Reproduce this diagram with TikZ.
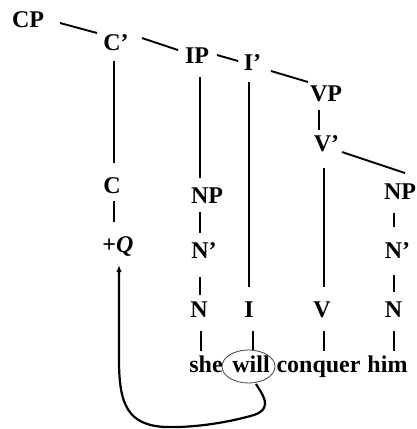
\documentclass[tikz,border=0pt]{standalone}
\usepackage{fontspec}
\setmainfont{Liberation Serif}
\usetikzlibrary{arrows.meta}
\newcommand\prm{\rlap{’}}
\begin{document}
\begin{tikzpicture}[x=1pt,y=-1pt,
  lab/.style={font=\fontsize{24}{28}\selectfont\bfseries, inner sep=1pt, anchor=base},
  wrd/.style={font=\fontsize{24}{28}\selectfont\bfseries, inner sep=1pt, anchor=base},
  edge/.style={line width=1.9pt},
  move/.style={line width=2.2pt, -{Latex[length=7pt,width=5.5pt]}},
  ring/.style={line width=0.8pt, draw=black!75}]
\useasboundingbox (0,0) rectangle (416,429);
% labels
\node[lab] (CP)  at (28,27)    {CP};
\node[lab] (C1)  at (112,50)   {C\prm};
\node[lab] (IP)  at (197,63)   {IP};
\node[lab] (I1)  at (248.5,70) {I\prm};
\node[lab] (VP)  at (326,101)  {VP};
\node[lab] (V1)  at (322.5,151){V\prm};
\node[lab] (NPr) at (400,199)  {NP};
\node[lab] (C)   at (112,193)  {C};
\node[lab] (Q)   at (118,252)  {+\textit{Q}};
\node[lab] (NPl) at (207,203)  {NP};
\node[lab] (N1l) at (200,258)  {N\prm};
\node[lab] (Nl)  at (199,317)  {N};
\node[lab] (I)   at (249,317)  {I};
\node[lab] (V)   at (322,317)  {V};
\node[lab] (N1r) at (393.5,258){N\prm};
\node[lab] (Nr)  at (393.5,317){N};
% words
\node[wrd] (she)  at (206,372)   {she};
\node[wrd] (will) at (251,372)   {will};
\node[wrd] (conq) at (318.5,372) {conquer};
\node[wrd] (him)  at (387.5,372) {him};
\draw[ring] ([shift={(-2.5,-5.5)}]will.base) ellipse [x radius=26.5, y radius=16.5];
% branches
\draw[edge] ([shift={(32,-4)}]CP.base)   -- ([shift={(-15,-17)}]C1.base);
\draw[edge] ([shift={(30,-12)}]C1.base)  -- ([shift={(-19,-13)}]IP.base);
\draw[edge] ([shift={(20,-8)}]IP.base)   -- ([shift={(-10.5,-9)}]I1.base);
\draw[edge] ([shift={(22.5,1)}]I1.base)  -- ([shift={(-18,-19)}]VP.base);
\draw[edge] ([shift={(-7,9)}]VP.base)    -- ([shift={(-3.5,-21)}]V1.base);
\draw[edge] ([shift={(19.5,1)}]V1.base)  -- ([shift={(5,-26)}]NPr.base);
\draw[edge] ([shift={(2,11)}]C1.base)    -- ([shift={(2,-30)}]C.base);
\draw[edge] ([shift={(2,8)}]C.base)      -- ([shift={(-4,-30)}]Q.base);
\draw[edge] ([shift={(3,14)}]IP.base)    -- ([shift={(-7,-25)}]NPl.base);
\draw[edge] ([shift={(-7,9)}]NPl.base)   -- ([shift={(0,-25)}]N1l.base);
\draw[edge] ([shift={(0,19)}]N1l.base)   -- ([shift={(1,-22)}]Nl.base);
\draw[edge] ([shift={(0.5,12)}]I1.base)  -- ([shift={(0,-30)}]I.base);
\draw[edge] ([shift={(1.5,17)}]V1.base)  -- ([shift={(2,-30)}]V.base);
\draw[edge] ([shift={(-6,14)}]NPr.base)  -- ([shift={(0.5,-31)}]N1r.base);
\draw[edge] ([shift={(0.5,17)}]N1r.base) -- ([shift={(0.5,-25)}]Nr.base);
\draw[edge] ([shift={(2,14)}]Nl.base)    -- ([shift={(-5,-21)}]she.base);
\draw[edge] ([shift={(4,14)}]I.base)     -- ([shift={(2,-22)}]will.base);
\draw[edge] ([shift={(2,14)}]V.base)     -- ([shift={(5.5,-21)}]conq.base);
\draw[edge] ([shift={(0.5,14)}]Nr.base)  -- ([shift={(6.5,-21)}]him.base);
% movement arrow
\draw[move] ([shift={(5,12)}]will.base)
  .. controls (262,394) and (274,408) .. (254,415)
  .. controls (230,422) and (195,428) .. (165,427)
  .. controls (128,425) and (119,405) .. (119,360)
  -- ([shift={(1,13)}]Q.base);
\end{tikzpicture}
\end{document}
